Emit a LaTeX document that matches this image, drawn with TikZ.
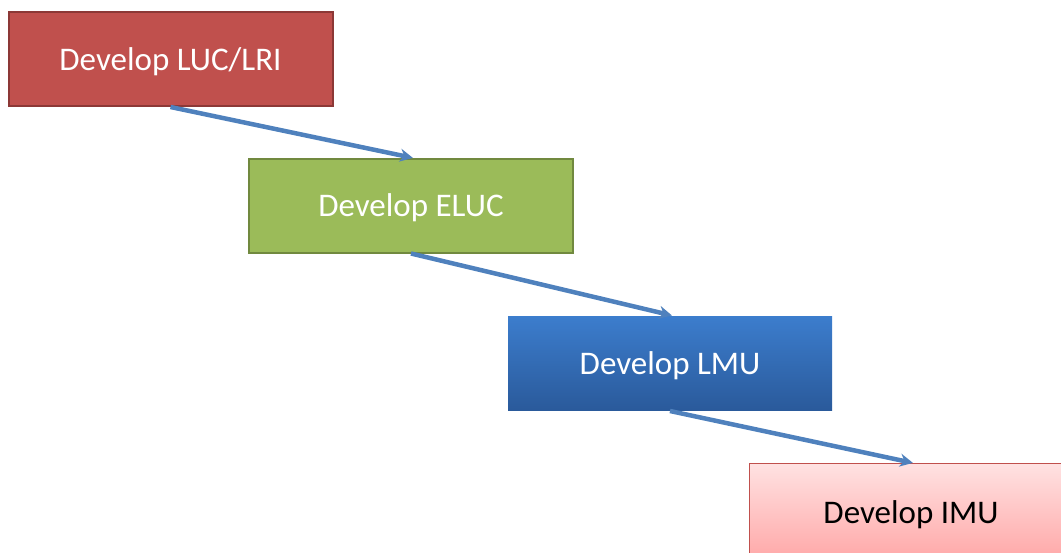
\documentclass[tikz,border=0pt]{standalone}
\usepackage{fontspec}
\setmainfont{Carlito}
\usetikzlibrary{arrows.meta}
\definecolor{redfill}{HTML}{C0504D}
\definecolor{redline}{HTML}{8C3836}
\definecolor{greenfill}{HTML}{9BBB59}
\definecolor{greenline}{HTML}{71893F}
\definecolor{bluetop}{HTML}{3C7DCD}
\definecolor{bluebot}{HTML}{2A5A9B}
\definecolor{pinktop}{HTML}{FFE2E2}
\definecolor{pinkbot}{HTML}{FFA6A6}
\definecolor{arrowblue}{HTML}{4F81BD}
\tikzset{
  x=1pt, y=-1pt,
  stepbox/.style={draw, line width=2pt, minimum width=324pt, minimum height=94pt, inner sep=0pt, font=\fontsize{33}{38}\selectfont, text=white, text height=29pt, text depth=7pt},
  flow/.style={draw=arrowblue, line width=4.5pt, -{Stealth[length=13pt,width=13pt]}, shorten >=-2pt},
}
\begin{document}
\begin{tikzpicture}
\useasboundingbox (0,0) rectangle (1061,552);
\clip (0,0) rectangle (1061,552);
\node[stepbox, fill=redfill, draw=redline] (a) at (170.5,59) {Develop LUC/LRI};
\node[stepbox, fill=greenfill, draw=greenline] (b) at (411,205.5) {Develop ELUC};
\node[stepbox, draw=none, top color=bluetop, bottom color=bluebot] (c) at (670,363) {Develop LMU};
\node[stepbox, draw=redfill, line width=1pt, top color=pinktop, bottom color=pinkbot, text=black, minimum height=100pt, text height=27pt] (d) at (911,513) {Develop IMU};
\draw[flow] (a.south) -- (b.north);
\draw[flow] (b.south) -- (c.north);
\draw[flow] (c.south) -- (d.north);
\end{tikzpicture}
\end{document}
